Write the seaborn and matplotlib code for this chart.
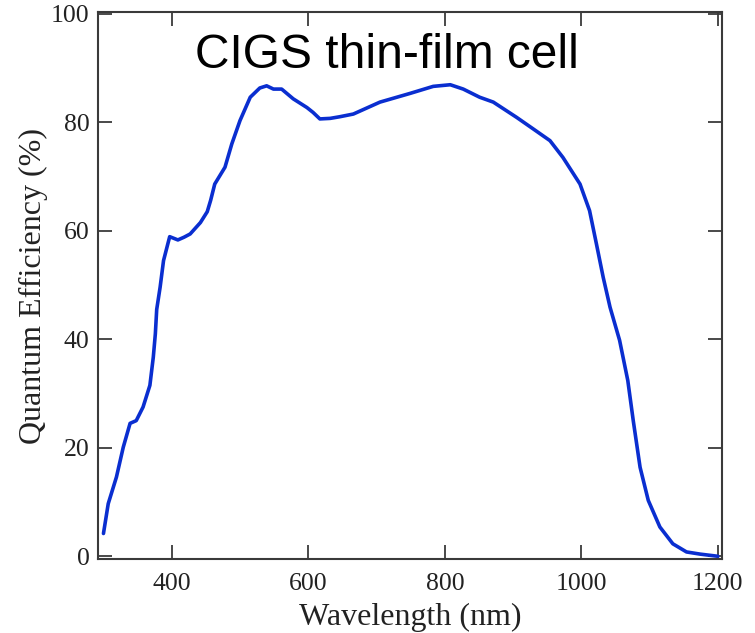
import pandas as pd
import seaborn as sns
import matplotlib.pyplot as plt

# quantum efficiency curve
wavelength = [300, 307, 319, 329, 339, 348, 358, 368, 373, 376, 378, 383, 388, 397,
              409, 418, 427, 442, 452, 457, 463, 478, 488, 500, 515, 529, 539, 549,
              561, 578, 598, 607, 617, 632, 646, 666, 705, 749, 783, 808, 827, 851,
              871, 905, 929, 954, 973, 998, 1012, 1022, 1032, 1042, 1056, 1068, 1076,
              1086, 1098, 1115, 1134, 1154, 1174, 1200]
qe = [4.2, 9.7, 14.6, 20.1, 24.5, 25.0, 27.5, 31.5, 36.7, 41.0, 45.5, 49.6, 54.5, 58.9,
      58.3, 58.8, 59.4, 61.5, 63.5, 65.6, 68.6, 71.7, 76.0, 80.3, 84.6, 86.3, 86.7, 86.1,
      86.1, 84.3, 82.7, 81.8, 80.6, 80.7, 81.0, 81.5, 83.7, 85.3, 86.6, 86.9, 86.1, 84.6,
      83.7, 80.9, 78.8, 76.6, 73.5, 68.6, 63.7, 57.6, 51.4, 45.9, 39.8, 32.4, 25.0,
      16.4, 10.3, 5.4, 2.3, 0.8, 0.4, 0.0]
xticks = [400, 600, 800, 1000, 1200]
yticks = [0, 20, 40, 60, 80, 100]

df = pd.DataFrame({'wavelength': wavelength, 'qe': qe})

sns.set_style('ticks')
plt.rcParams['font.family'] = ['Liberation Serif', 'DejaVu Serif']

fig = plt.figure(figsize=(7.55, 6.33), dpi=100)
ax = fig.add_axes([0.1298, 0.1169, 0.8265, 0.8641])

sns.lineplot(x='wavelength', y='qe', data=df, ax=ax, color='#0a2ed0', linewidth=2.6)

ax.set_xlim(292, 1206)
ax.set_ylim(-0.5, 100.3)
ax.set_xticks(xticks)
ax.set_yticks(yticks)
ax.set_xlabel('Wavelength (nm)', fontsize=23, labelpad=6, color='#222222')
ax.set_ylabel('Quantum Efficiency (%)', fontsize=23, labelpad=2, color='#222222')

for s in ax.spines.values():
    s.set_visible(True)
    s.set_color('#3a3a3a')
    s.set_linewidth(1.5)
ax.tick_params(direction='in', length=10, width=1.3, color='#3a3a3a',
               top=True, right=True, labelsize=18.5, labelcolor='#222222')
ax.tick_params(axis='x', pad=10)
ax.tick_params(axis='y', pad=6)

ax.text(0.4623, 0.8976, 'CIGS thin-film cell', transform=ax.transAxes,
        ha='center', va='baseline', fontsize=34.5, family='Liberation Sans', color='black')

fig.savefig('out.png', dpi=100)
